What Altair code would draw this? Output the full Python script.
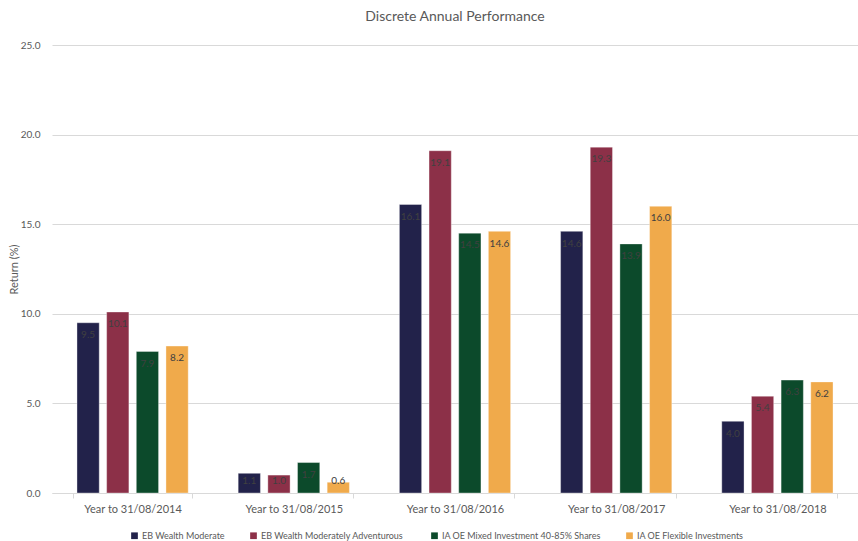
import altair as alt
import pandas as pd

periods = ["Year to 31/08/2014", "Year to 31/08/2015", "Year to 31/08/2016",
           "Year to 31/08/2017", "Year to 31/08/2018"]
series = ["EB Wealth Moderate", "EB Wealth  Moderately Adventurous",
          "IA OE Mixed Investment 40-85% Shares", "IA OE Flexible Investments"]
eb_moderate = [9.5, 1.1, 16.1, 14.6, 4.0]
eb_adventurous = [10.1, 1.0, 19.1, 19.3, 5.4]
ia_mixed = [7.9, 1.7, 14.5, 13.9, 6.3]
ia_flexible = [8.2, 0.6, 14.6, 16.0, 6.2]
colors = ["#22224a", "#8c3048", "#0c4a2b", "#f0aa4b"]

rows = []
for s, vals in zip(series, [eb_moderate, eb_adventurous, ia_mixed, ia_flexible]):
    for p, v in zip(periods, vals):
        rows.append({"period": p, "series": s, "value": v})
df = pd.DataFrame(rows)

FONT = "Lato"
GREY = "#595959"

yscale = alt.Scale(domain=[0, 25], nice=False, zero=True)

x = alt.X("period:N", sort=periods, title=None,
          scale=alt.Scale(paddingInner=0.264, paddingOuter=0.132),
          axis=alt.Axis(labelAngle=0, labelFontSize=11, labelColor=GREY, labelFont=FONT,
                        domainColor="#d9d9d9", tickColor="#d9d9d9", tickSize=5,
                        tickBand="extent", labelPadding=5, grid=False))
xo = alt.XOffset("series:N", sort=series,
                 scale=alt.Scale(paddingInner=0.25, paddingOuter=0.125))
y = alt.Y("value:Q", title="Return (%)", scale=yscale,
          axis=alt.Axis(values=[0, 5, 10, 15, 20, 25], format=".1f", domain=False, ticks=False,
                        labelFontSize=10, labelColor=GREY, labelFont=FONT, labelPadding=12,
                        gridColor="#d9d9d9", titleFont=FONT, titleFontSize=11,
                        titleColor=GREY, titleFontWeight="normal", titlePadding=1))

bars = alt.Chart(df).mark_bar(stroke="#ffffff", strokeOpacity=0.35, strokeWidth=1).encode(
    x=x, xOffset=xo, y=y,
    color=alt.Color("series:N", sort=series,
                    scale=alt.Scale(domain=series, range=colors),
                    legend=alt.Legend(title=None, orient="none", direction="horizontal",
                                      legendX=78, legendY=486, symbolType="square",
                                      symbolSize=45, symbolStrokeWidth=0,
                                      labelFont=FONT, labelFontSize=9, labelColor=GREY,
                                      labelLimit=400, columnPadding=24, labelOffset=3))
)

labels = alt.Chart(df).transform_calculate(
    label_y="max(datum.value - 0.68, 0.68)"
).mark_text(baseline="middle", fontSize=10, font=FONT, color="#404040").encode(
    x=alt.X("period:N", sort=periods), xOffset=alt.XOffset("series:N", sort=series),
    y=alt.Y("label_y:Q", scale=yscale), text=alt.Text("value:Q", format=".1f"))

chart = (bars + labels).properties(
    width=806, height=448,
    title=alt.TitleParams("Discrete Annual Performance", font=FONT, fontSize=14,
                          fontWeight="normal", color=GREY, anchor="middle", offset=16),
    autosize=alt.AutoSizeParams(type="none"),
    padding={"left": 52, "top": 45, "right": 0, "bottom": 48},
).configure_view(stroke=None)

chart.save("out.html", embed_options={"renderer": "svg", "actions": False})
